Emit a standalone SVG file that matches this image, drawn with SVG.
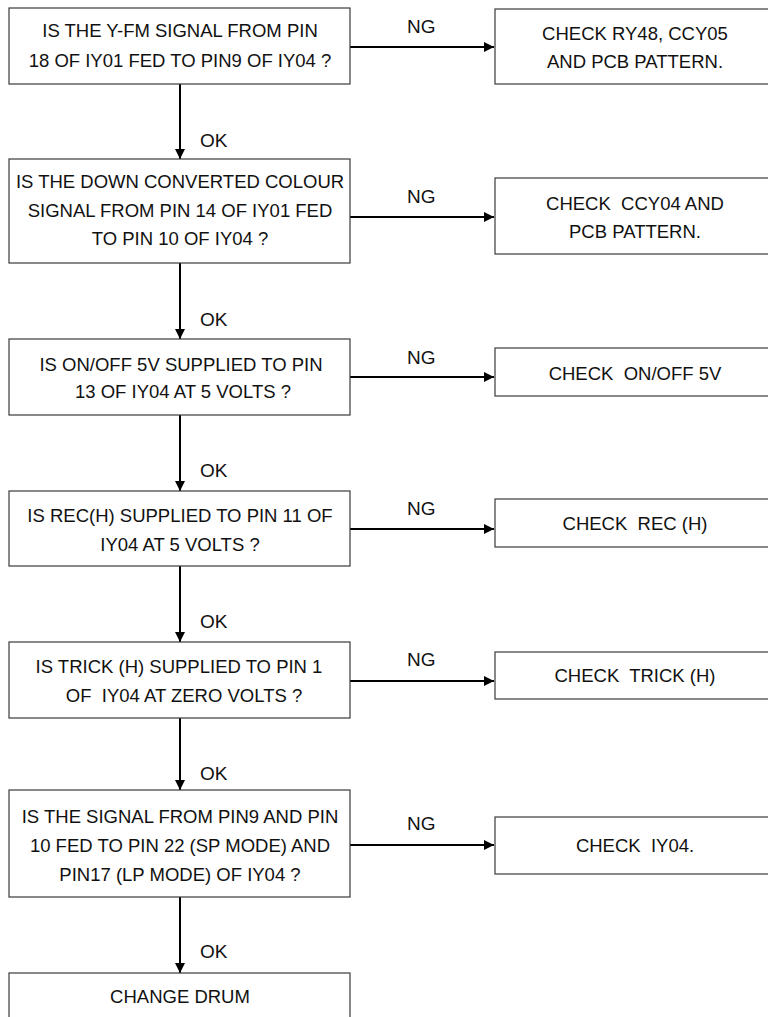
<svg xmlns="http://www.w3.org/2000/svg" width="768" height="1017" viewBox="0 0 768 1017">
  <style>
    .box { fill: #ffffff; stroke: #3a3a3a; stroke-width: 1.2; }
    .t { font-family: "Liberation Sans", Arial, sans-serif; font-size: 18.5px; fill: #111; text-anchor: middle; white-space: pre; }
    .lbl { font-family: "Liberation Sans", Arial, sans-serif; font-size: 19px; fill: #111; white-space: pre; }
    .c { stroke: #000; stroke-width: 2; fill: none; marker-end: url(#ah); }
  </style>
  <defs>
    <marker id="ah" viewBox="0 0 10 10" refX="10" refY="5" markerUnits="userSpaceOnUse" markerWidth="11" markerHeight="10" orient="auto">
      <path d="M0,0 L10,5 L0,10 z" fill="#000"/>
    </marker>
  </defs>

  <!-- flow connectors -->
  <g id="connectors">
    <line class="c" x1="180" y1="84" x2="180" y2="159"/>
    <line class="c" x1="180" y1="263" x2="180" y2="339"/>
    <line class="c" x1="180" y1="415" x2="180" y2="491"/>
    <line class="c" x1="180" y1="566" x2="180" y2="642"/>
    <line class="c" x1="180" y1="718" x2="180" y2="790"/>
    <line class="c" x1="180" y1="897" x2="180" y2="973"/>
    <line class="c" x1="350" y1="47" x2="494" y2="47"/>
    <line class="c" x1="350" y1="217" x2="494" y2="217"/>
    <line class="c" x1="350" y1="377" x2="494" y2="377"/>
    <line class="c" x1="350" y1="529" x2="494" y2="529"/>
    <line class="c" x1="350" y1="681" x2="494" y2="681"/>
    <line class="c" x1="350" y1="845" x2="494" y2="845"/>
    <text class="lbl" x="200" y="147">OK</text>
    <text class="lbl" x="200" y="326">OK</text>
    <text class="lbl" x="200" y="477">OK</text>
    <text class="lbl" x="200" y="628">OK</text>
    <text class="lbl" x="200" y="780">OK</text>
    <text class="lbl" x="200" y="958">OK</text>
    <text class="lbl" x="407" y="33">NG</text>
    <text class="lbl" x="407" y="203">NG</text>
    <text class="lbl" x="407" y="364">NG</text>
    <text class="lbl" x="407" y="515">NG</text>
    <text class="lbl" x="407" y="666">NG</text>
    <text class="lbl" x="407" y="830">NG</text>
  </g>

  <g id="q1">
    <rect class="box" x="9" y="8" width="341" height="76"/>
    <text class="t" x="180" y="37">IS THE Y-FM SIGNAL FROM PIN</text>
    <text class="t" x="180" y="67">18 OF IY01 FED TO PIN9 OF IY04 ?</text>
  </g>
  <g id="r1">
    <rect class="box" x="495" y="9" width="281" height="75"/>
    <text class="t" x="635" y="40">CHECK RY48, CCY05</text>
    <text class="t" x="635" y="68">AND PCB PATTERN.</text>
  </g>

  <g id="q2">
    <rect class="box" x="9" y="159" width="341" height="104"/>
    <text class="t" x="180" y="188">IS THE DOWN CONVERTED COLOUR</text>
    <text class="t" x="180" y="217">SIGNAL FROM PIN 14 OF IY01 FED</text>
    <text class="t" x="180" y="245">TO PIN 10 OF IY04 ?</text>
  </g>
  <g id="r2">
    <rect class="box" x="495" y="178" width="281" height="76"/>
    <text class="t" x="635" y="210">CHECK  CCY04 AND</text>
    <text class="t" x="635" y="238">PCB PATTERN.</text>
  </g>

  <g id="q3">
    <rect class="box" x="9" y="339" width="341" height="76"/>
    <text class="t" x="181" y="371">IS ON/OFF 5V SUPPLIED TO PIN</text>
    <text class="t" x="183" y="398">13 OF IY04 AT 5 VOLTS ?</text>
  </g>
  <g id="r3">
    <rect class="box" x="495" y="348" width="281" height="48"/>
    <text class="t" x="635" y="380">CHECK  ON/OFF 5V</text>
  </g>

  <g id="q4">
    <rect class="box" x="9" y="491" width="341" height="75"/>
    <text class="t" x="180" y="522">IS REC(H) SUPPLIED TO PIN 11 OF</text>
    <text class="t" x="180" y="551">IY04 AT 5 VOLTS ?</text>
  </g>
  <g id="r4">
    <rect class="box" x="495" y="499" width="281" height="48"/>
    <text class="t" x="635" y="530">CHECK  REC (H)</text>
  </g>

  <g id="q5">
    <rect class="box" x="9" y="642" width="341" height="76"/>
    <text class="t" x="179" y="673">IS TRICK (H) SUPPLIED TO PIN 1</text>
    <text class="t" x="184" y="702">OF  IY04 AT ZERO VOLTS ?</text>
  </g>
  <g id="r5">
    <rect class="box" x="495" y="652" width="281" height="47"/>
    <text class="t" x="635" y="682">CHECK  TRICK (H)</text>
  </g>

  <g id="q6">
    <rect class="box" x="9" y="790" width="341" height="107"/>
    <text class="t" x="180" y="823">IS THE SIGNAL FROM PIN9 AND PIN</text>
    <text class="t" x="180" y="852">10 FED TO PIN 22 (SP MODE) AND</text>
    <text class="t" x="180" y="881">PIN17 (LP MODE) OF IY04 ?</text>
  </g>
  <g id="r6">
    <rect class="box" x="495" y="817" width="281" height="57"/>
    <text class="t" x="635" y="852">CHECK  IY04.</text>
  </g>

  <g id="end">
    <rect class="box" x="9" y="973" width="341" height="60"/>
    <text class="t" x="180" y="1003">CHANGE DRUM</text>
  </g>
</svg>
